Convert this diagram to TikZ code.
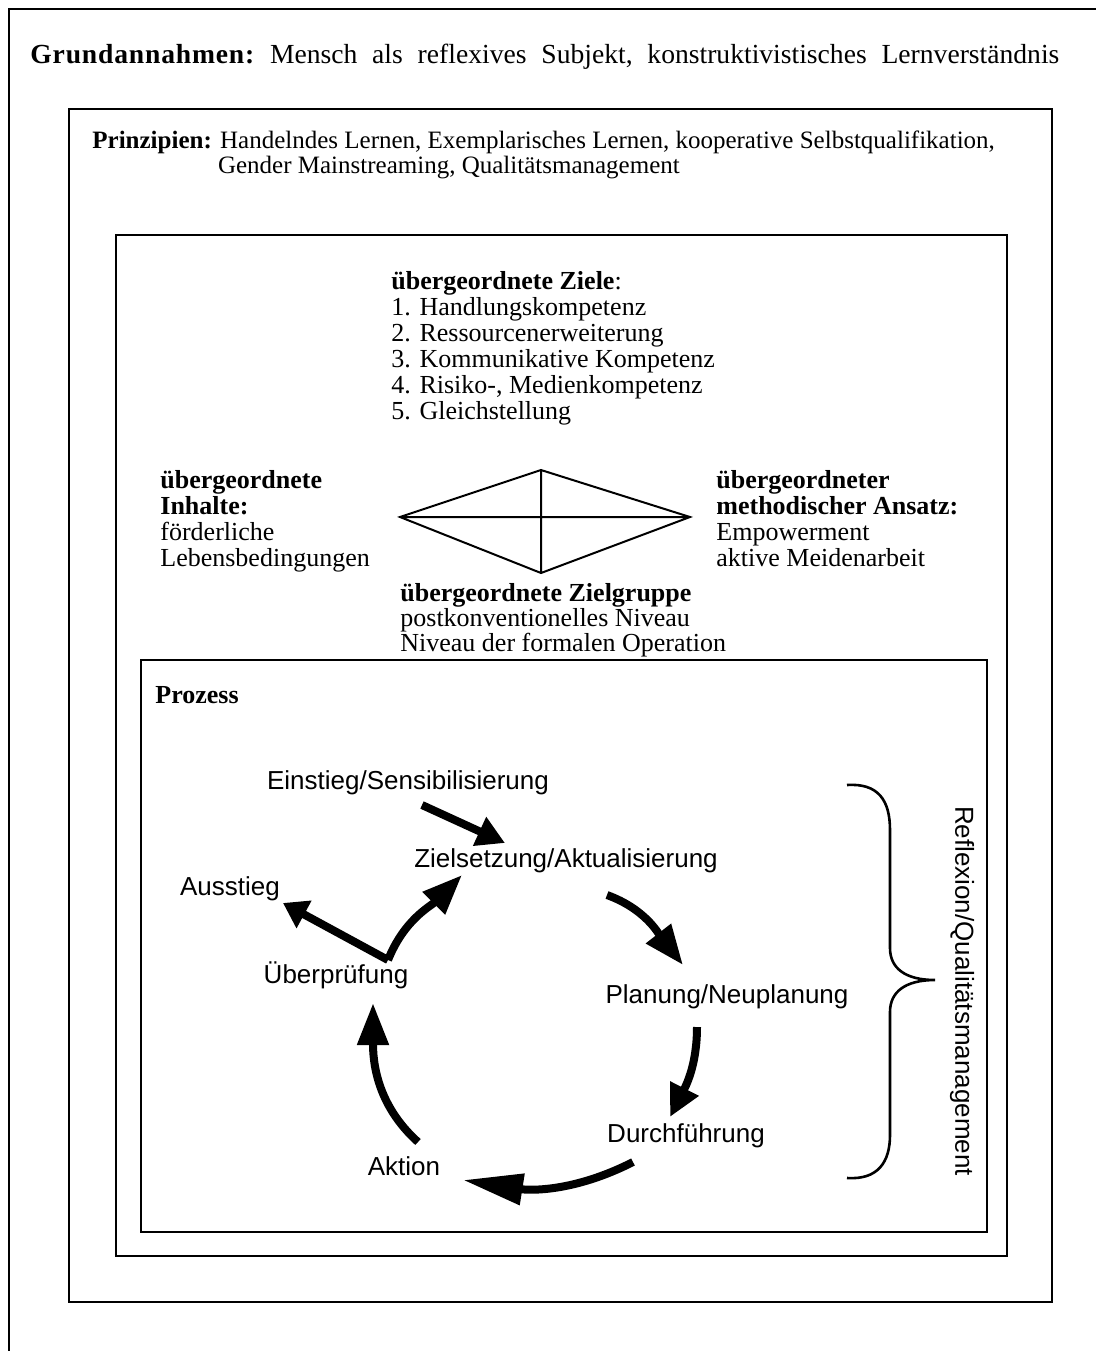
\documentclass[tikz,border=0pt]{standalone}
\usepackage{fontspec}
\setmainfont{Liberation Serif}
\setsansfont{Liberation Sans}
\usetikzlibrary{arrows.meta,calc}

\begin{document}
\begin{tikzpicture}[
    x=0.5pt, y=-0.5pt,
    frame/.style={draw, line width=0.8pt},
    txt/.style={anchor=base west, align=left, inner sep=0pt, font=\fontsize{13}{13}\selectfont},
    lbl/.style={anchor=base, inner sep=0pt, font=\sffamily\fontsize{13}{13}\selectfont},
    rhomb/.style={line width=1pt, line join=miter},
    flow/.style={line width=4pt, -{Triangle[length=#1, width=15pt]}},
    brace/.style={line width=1.3pt}
]
\useasboundingbox (0,0) rectangle (1096,1351);

% frames
\draw[line width=1pt] (9,9) rectangle (1200,1450);
\draw[frame] (69,109) rectangle (1052,1302);
\draw[frame] (116,235) rectangle (1007,1256);
\draw[frame] (141,660) rectangle (987,1232);

% texts (multi-line nodes sit on the baseline of their last line)
\node[txt, font=\fontsize{13.8}{14}\selectfont\frenchspacing] (grund) at (30,63) {\makebox[514.5pt][s]{\textbf{\addfontfeature{LetterSpace=3}Grundannahmen:} Mensch als reflexives Subjekt, konstruktivistisches Lernverständnis}};
\node[txt, font=\fontsize{12.5}{12.5}\selectfont] (prinz) at (92,173) {\textbf{Prinzipien:} Handelndes Lernen, Exemplarisches Lernen, kooperative Selbstqualifikation,\\\phantom{\textbf{Prinzipien:}} Gender Mainstreaming, Qualitätsmanagement};
\node[txt] (ziele) at (391,419) {\textbf{übergeordnete Ziele}:\\1. Handlungskompetenz\\2. Ressourcenerweiterung\\3. Kommunikative Kompetenz\\4. Risiko-, Medienkompetenz\\5. Gleichstellung};
\node[txt] (inhalt) at (160,566) {\textbf{übergeordnete}\\\textbf{Inhalte:}\\förderliche\\Lebensbedingungen};
\node[txt] (ansatz) at (716,566) {\textbf{übergeordneter}\\\textbf{methodischer Ansatz:}\\Empowerment\\aktive Meidenarbeit};
\node[txt, font=\fontsize{13}{12.3}\selectfont] (gruppe) at (400,651) {\textbf{übergeordnete Zielgruppe}\\postkonventionelles Niveau\\Niveau der formalen Operation};
\node[txt] (proz) at (155,703) {\textbf{Prozess}};

% rhombus
\coordinate (rl) at (400,517);
\coordinate (rt) at (541,470);
\coordinate (rr) at (690,517);
\coordinate (rb) at (541,573);
\draw[rhomb] (rl) -- (rt) -- (rr) -- (rb) -- cycle (rl) -- (rr) (rt) -- (rb);

% process cycle
\node[lbl] (ein) at (408,789) {Einstieg/Sensibilisierung};
\node[lbl] (ziel) at (566,867) {Zielsetzung/Aktualisierung};
\node[lbl] (aus) at (230,895) {Ausstieg};
\node[lbl] (pruef) at (336,983) {Überprüfung};
\node[lbl] (plan) at (727,1003) {Planung/Neuplanung};
\node[lbl] (durch) at (686,1142) {Durchführung};
\node[lbl] (akt) at (404,1175) {Aktion};
\node[lbl, anchor=center, rotate=-90] (refl) at (962,991) {Reflexion/Qualitätsmanagement};

\draw[flow=14pt] ([shift={(14,16)}]ein.base) -- ([shift={(-61,-24)}]ziel.base);
\draw[flow=12pt] ([shift={(52,-23)}]pruef.base) -- ([shift={(53,8)}]aus.base);
\draw[flow=20pt] ([shift={(52,-23)}]pruef.base) to[out=68,in=225] ([shift={(-104,8)}]ziel.base);
\draw[flow=20pt] ([shift={(41,28)}]ziel.base) to[out=-20,in=128] ([shift={(-44,-38)}]plan.base);
\draw[flow=16pt] ([shift={(-30,24)}]plan.base) to[out=-90,in=63] ([shift={(-16,-25)}]durch.base);
\draw[flow=30pt] ([shift={(-53,20)}]durch.base) to[out=207,in=-9] ([shift={(59,5)}]akt.base);
\draw[flow=21pt] ([shift={(14,-33)}]akt.base) to[out=138,in=-90] ([shift={(37,20)}]pruef.base);

% brace
\draw[brace] (847,785) .. controls (878,783) and (890,800) .. (890,830) -- (890,948)
  .. controls (890,968) and (905,980) .. (935,980)
  .. controls (905,980) and (890,992) .. (890,1012) -- (890,1135)
  .. controls (890,1162) and (878,1180) .. (847,1178);
\end{tikzpicture}
\end{document}
